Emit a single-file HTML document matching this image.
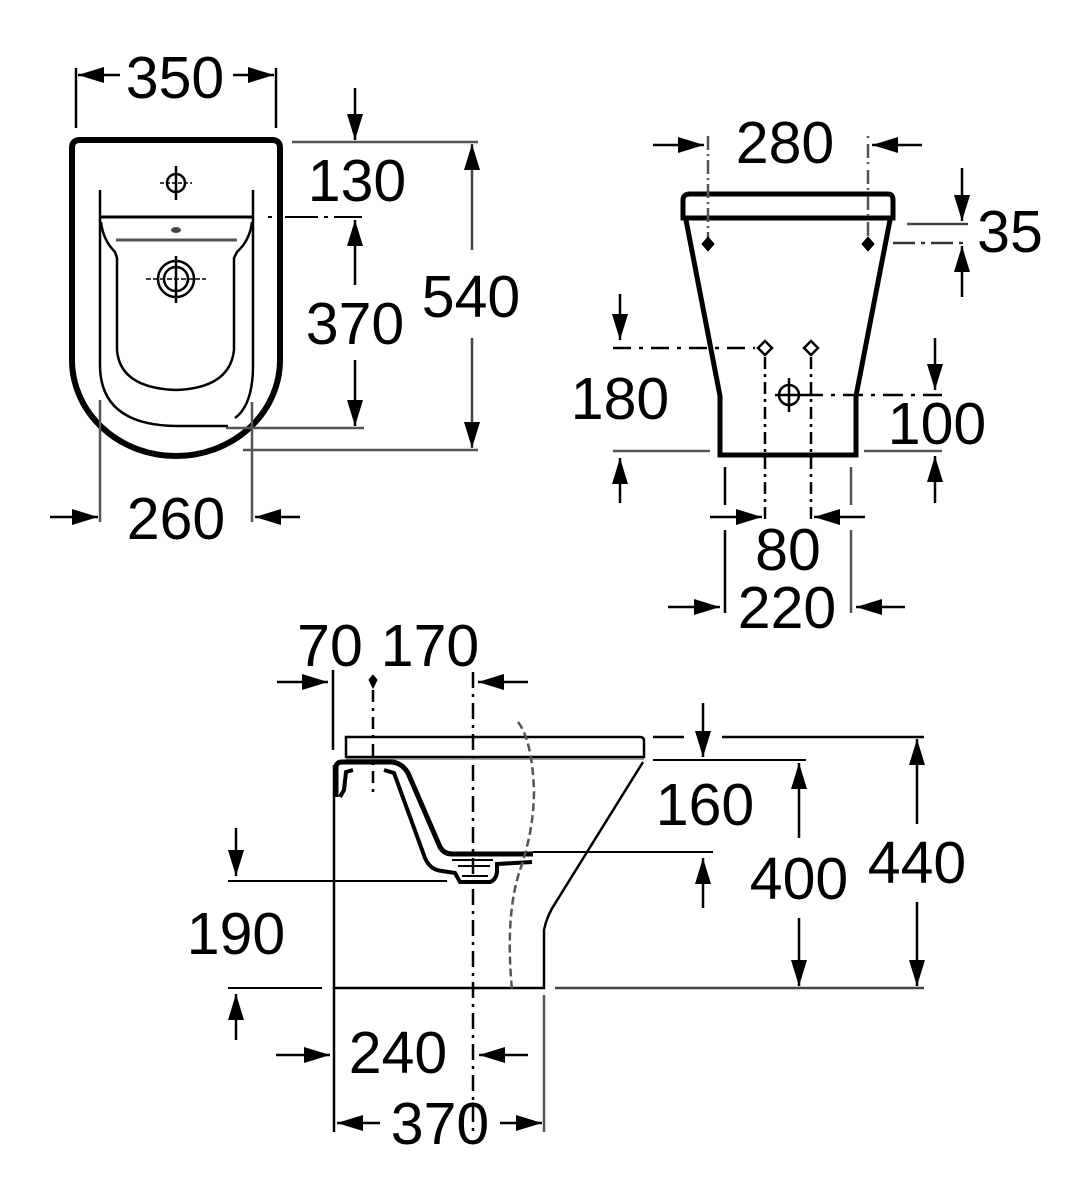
<!DOCTYPE html>
<html><head><meta charset="utf-8"><style>
html,body{margin:0;padding:0;background:#fff;}
svg{display:block;}
text{font-family:"Liberation Sans",sans-serif;font-size:59px;fill:#000;text-anchor:middle;}
</style></head><body>
<svg width="1090" height="1200" viewBox="0 0 1090 1200" xmlns="http://www.w3.org/2000/svg">
<defs>
<marker id="a" markerWidth="28" markerHeight="18" refX="26" refY="9" orient="auto" markerUnits="userSpaceOnUse">
<path d="M0,1 L26,9 L0,17 Z" fill="#000"/>
</marker>
</defs>
<g stroke="#000" fill="none" stroke-width="2.5">
<!-- ===== TOP LEFT VIEW ===== -->
<line x1="76" y1="68" x2="76" y2="128"/>
<line x1="276" y1="68" x2="276" y2="128"/>
<line x1="120" y1="75" x2="78" y2="75" marker-end="url(#a)"/>
<line x1="233" y1="75" x2="274" y2="75" marker-end="url(#a)"/>
<path d="M72,148 Q72,140 80,140 L272,140 Q280,140 280,148 L280,360 A104,96 0 0 1 72,360 Z" stroke-width="6"/>
<path d="M100,190 L100,365 Q100,425 176,426 L228,426" stroke-width="2.5"/>
<path d="M253,190 L253,365 Q253,405 235,418" stroke-width="2.5"/>
<line x1="100" y1="217" x2="253" y2="217" stroke-width="3"/>
<path d="M268,217 L272,217 M285,217 L318,217 M324,217 L328,217 M334,217 L362,217" stroke-width="2"/>
<path d="M101,222 Q103,240 115,252 L117,258 L117,350 Q120,388 176,390 Q230,388 234,350 L234,258 L237,252 Q250,240 252,222" stroke-width="2.5"/>
<line x1="116" y1="240" x2="237" y2="240" stroke="#555" stroke-width="3"/>
<ellipse cx="176" cy="230" rx="5" ry="3" fill="#444" stroke="none"/>
<circle cx="176" cy="183" r="9" stroke-width="2.5"/>
<line x1="176" y1="166" x2="176" y2="200" stroke-width="2.5"/>
<line x1="160" y1="183" x2="192" y2="183" stroke-width="1.5" stroke-dasharray="4 2"/>
<circle cx="176" cy="279" r="18" stroke-width="2.5"/>
<circle cx="176" cy="279" r="12" stroke-width="2.5"/>
<line x1="176" y1="256" x2="176" y2="303" stroke-width="2.5"/>
<line x1="146" y1="279" x2="206" y2="279" stroke-width="1.5" stroke-dasharray="5 2"/>
<line x1="355" y1="88" x2="355" y2="140" marker-end="url(#a)"/>
<line x1="292" y1="142" x2="478" y2="142" stroke="#555"/>
<line x1="355" y1="285" x2="355" y2="220" marker-end="url(#a)"/>
<line x1="355" y1="360" x2="355" y2="426" marker-end="url(#a)"/>
<line x1="226" y1="428" x2="364" y2="428" stroke="#555"/>
<line x1="472" y1="250" x2="472" y2="144" marker-end="url(#a)" stroke="#444"/>
<line x1="472" y1="338" x2="472" y2="448" marker-end="url(#a)" stroke="#444"/>
<line x1="243" y1="450" x2="478" y2="450" stroke="#555"/>
<line x1="100" y1="400" x2="100" y2="522" stroke="#555"/>
<line x1="252" y1="402" x2="252" y2="522" stroke="#555"/>
<line x1="50" y1="517" x2="98" y2="517" marker-end="url(#a)"/>
<line x1="300" y1="517" x2="255" y2="517" marker-end="url(#a)"/>

<!-- ===== TOP RIGHT VIEW ===== -->
<path d="M683,200 Q683,194 690,194 L888,194 Q893,194 893,200 L893,218 L683,218 Z" stroke-width="5"/>
<line x1="694" y1="219" x2="882" y2="219" stroke-width="2"/>
<path d="M686,220 L720,396 L720,455 L856,455 L856,396 L890,220" stroke-width="5"/>
<line x1="708" y1="136" x2="708" y2="244" stroke="#555" stroke-dasharray="14 4 2 4"/>
<line x1="868" y1="136" x2="868" y2="244" stroke="#555" stroke-dasharray="2 6 14 4"/>
<line x1="653" y1="145" x2="704" y2="145" marker-end="url(#a)"/>
<line x1="922" y1="145" x2="872" y2="145" marker-end="url(#a)"/>
<path d="M708,237 L714,244 L708,251 L702,244 Z M868,237 L874,244 L868,251 L862,244 Z" fill="#000" stroke-width="1"/>
<line x1="907" y1="224" x2="968" y2="224" stroke="#444"/>
<line x1="893" y1="243" x2="968" y2="243" stroke="#333" stroke-dasharray="22 6 4 6"/>
<line x1="962" y1="168" x2="962" y2="221" marker-end="url(#a)"/>
<line x1="962" y1="297" x2="962" y2="246" marker-end="url(#a)"/>
<line x1="613" y1="348" x2="755" y2="348" stroke-dasharray="18 8 4 8"/>
<path d="M765,341 L772,348 L765,355 L758,348 Z M811,341 L818,348 L811,355 L804,348 Z" stroke-width="2.5"/>
<line x1="765" y1="357" x2="765" y2="520" stroke-dasharray="12 5 3 5"/>
<line x1="811" y1="357" x2="811" y2="520" stroke-dasharray="12 5 3 5"/>
<line x1="620" y1="294" x2="620" y2="340" marker-end="url(#a)"/>
<line x1="613" y1="451" x2="710" y2="451" stroke="#555"/>
<line x1="620" y1="503" x2="620" y2="458" marker-end="url(#a)"/>
<circle cx="789" cy="395" r="10" stroke-width="2.5"/>
<line x1="789" y1="378" x2="789" y2="412"/>
<line x1="775" y1="395" x2="803" y2="395"/>
<line x1="803" y1="395" x2="942" y2="395" stroke-dasharray="20 8 4 8"/>
<line x1="935" y1="338" x2="935" y2="390" marker-end="url(#a)"/>
<line x1="864" y1="451" x2="942" y2="451" stroke="#555"/>
<line x1="935" y1="503" x2="935" y2="456" marker-end="url(#a)"/>
<line x1="725" y1="467" x2="725" y2="505"/>
<line x1="851" y1="467" x2="851" y2="505" stroke="#555"/>
<line x1="725" y1="530" x2="725" y2="613"/>
<line x1="851" y1="530" x2="851" y2="613" stroke="#555"/>
<line x1="710" y1="517" x2="762" y2="517" marker-end="url(#a)"/>
<line x1="865" y1="517" x2="814" y2="517" marker-end="url(#a)"/>
<line x1="668" y1="607" x2="720" y2="607" marker-end="url(#a)"/>
<line x1="905" y1="607" x2="856" y2="607" marker-end="url(#a)"/>

<!-- ===== BOTTOM VIEW ===== -->
<line x1="333" y1="670" x2="333" y2="750"/>
<line x1="277" y1="682" x2="328" y2="682" marker-end="url(#a)"/>
<line x1="528" y1="682" x2="478" y2="682" marker-end="url(#a)"/>
<path d="M373,675 L377,680 L373,688 L369,680 Z" fill="#000" stroke-width="1"/>
<line x1="373" y1="690" x2="373" y2="792" stroke-dasharray="12 6 3 6"/>
<line x1="473" y1="672" x2="473" y2="1132" stroke-dasharray="16 6 3 6"/>
<path d="M346,737 L640,737 Q644,737 644,741 L644,757 L346,757 Z" stroke-width="2.5"/>
<line x1="346" y1="759" x2="644" y2="759" stroke="#888" stroke-width="1.5"/>
<path d="M334,765 L334,988 L544,988 L544,930 Q547,915 556,902 L643,762" stroke-width="2.5"/>
<line x1="334" y1="988" x2="334" y2="1132"/>
<line x1="544" y1="995" x2="544" y2="1132" stroke="#555"/>
<path d="M336,797 L336,768 Q336,762 342,762 L392,762 Q402,763 408,773 L440,847 Q444,854 452,854 L533,854" stroke-width="5"/>
<path d="M353,770 L346,772 L344,790 L340,797" stroke-width="4"/>
<path d="M384,770 L394,773 L425,858 Q430,870 442,871 L455,873 L460,882 L490,882 Q496,880 497,872 L497,864 L532,862" stroke-width="4"/>
<path d="M452,860 L493,860 M458,866 L490,866 M462,876 L488,876" stroke-width="2"/>
<path d="M518,722 Q532,740 534,790 Q534,830 520,870 Q505,915 512,990" stroke="#555" stroke-width="2.5" stroke-dasharray="8 4"/>
<path d="M653,737 L684,737 M722,737 L924,737" stroke-width="2.5"/>
<line x1="653" y1="760" x2="806" y2="760" stroke-width="2"/>
<line x1="703" y1="703" x2="703" y2="757" marker-end="url(#a)"/>
<line x1="533" y1="852" x2="713" y2="852" stroke-width="2"/>
<line x1="703" y1="908" x2="703" y2="858" marker-end="url(#a)"/>
<line x1="799" y1="838" x2="799" y2="763" marker-end="url(#a)"/>
<line x1="799" y1="918" x2="799" y2="986" marker-end="url(#a)"/>
<line x1="917" y1="824" x2="917" y2="739" marker-end="url(#a)"/>
<line x1="917" y1="902" x2="917" y2="986" marker-end="url(#a)"/>
<line x1="555" y1="988" x2="924" y2="988" stroke="#444"/>
<line x1="236" y1="828" x2="236" y2="876" marker-end="url(#a)"/>
<line x1="228" y1="881" x2="447" y2="881" stroke-width="2"/>
<line x1="228" y1="988" x2="322" y2="988" stroke-width="2"/>
<line x1="236" y1="1040" x2="236" y2="994" marker-end="url(#a)"/>
<line x1="276" y1="1055" x2="330" y2="1055" marker-end="url(#a)"/>
<line x1="528" y1="1055" x2="479" y2="1055" marker-end="url(#a)"/>
<line x1="380" y1="1123" x2="337" y2="1123" marker-end="url(#a)"/>
<line x1="500" y1="1123" x2="542" y2="1123" marker-end="url(#a)"/>
</g>
<g>
<text x="175" y="98">350</text>
<text x="357" y="201">130</text>
<text x="355" y="344">370</text>
<text x="471" y="317">540</text>
<text x="176" y="539">260</text>
<text x="785" y="163">280</text>
<text x="1010" y="252">35</text>
<text x="620" y="419">180</text>
<text x="937" y="444">100</text>
<text x="788" y="570">80</text>
<text x="787" y="628">220</text>
<text x="330" y="666">70</text>
<text x="430" y="666">170</text>
<text x="705" y="825">160</text>
<text x="799" y="899">400</text>
<text x="917" y="883">440</text>
<text x="236" y="954">190</text>
<text x="398" y="1073">240</text>
<text x="440" y="1144">370</text>
</g>
</svg>
</body></html>
